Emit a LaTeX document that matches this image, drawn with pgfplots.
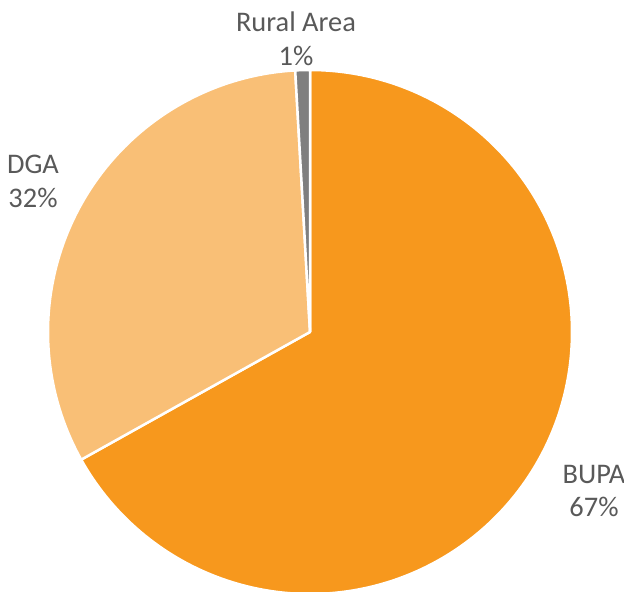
\documentclass[border=0pt]{standalone}
\usepackage{pgfplots}
\usepackage{pgfplotstable}
\pgfplotsset{compat=1.18}
\usepackage{fontspec}
\setmainfont{Carlito}
\definecolor{bupa}{HTML}{F7981D}
\definecolor{dga}{HTML}{F9BF76}
\definecolor{rural}{HTML}{7F7F7F}
\definecolor{lbl}{HTML}{595959}
\pgfplotstableread{
label value
BUPA 66.9
DGA 32.2
Rural 0.9
}\piedata
\begin{document}
\begin{tikzpicture}
\pgfplotstablegetelem{0}{value}\of\piedata \let\va\pgfplotsretval
\pgfplotstablegetelem{1}{value}\of\piedata \let\vb\pgfplotsretval
\pgfplotstablegetelem{2}{value}\of\piedata \let\vc\pgfplotsretval
\pgfmathsetmacro\aA{90-3.6*\va}
\pgfmathsetmacro\aB{\aA-3.6*\vb}
\pgfmathsetmacro\aC{\aB-3.6*\vc}
\begin{axis}[name=ax, scale only axis, width=624bp, height=592bp,
  xmin=0, xmax=624, ymin=0, ymax=592, hide axis, clip=false]
\addplot[fill=bupa, draw=white, line width=2.5pt, line join=round, domain=\aA:90, samples=200]
  ({310+262*cos(x)},{260+262*sin(x)}) -- (axis cs:310,260) -- cycle;
\addplot[fill=dga, draw=white, line width=2.5pt, line join=round, domain=\aB:\aA, samples=120]
  ({310+262*cos(x)},{260+262*sin(x)}) -- (axis cs:310,260) -- cycle;
\addplot[fill=rural, draw=white, line width=2.5pt, line join=round, domain=\aC:\aB, samples=10]
  ({310+262*cos(x)},{260+262*sin(x)}) -- (axis cs:310,260) -- cycle;
\node[text=lbl, align=center, font=\fontsize{28.5}{34}\selectfont] at (axis cs:296,553) {Rural Area\\1\%};
\node[text=lbl, align=center, font=\fontsize{28.5}{34}\selectfont] at (axis cs:33,411) {DGA\\32\%};
\node[text=lbl, align=center, font=\fontsize{28.5}{34}\selectfont] at (axis cs:594,101) {BUPA\\67\%};
\end{axis}
\pgfresetboundingbox
\path[use as bounding box] (ax.south west) rectangle (ax.north east);
\end{tikzpicture}
\end{document}
